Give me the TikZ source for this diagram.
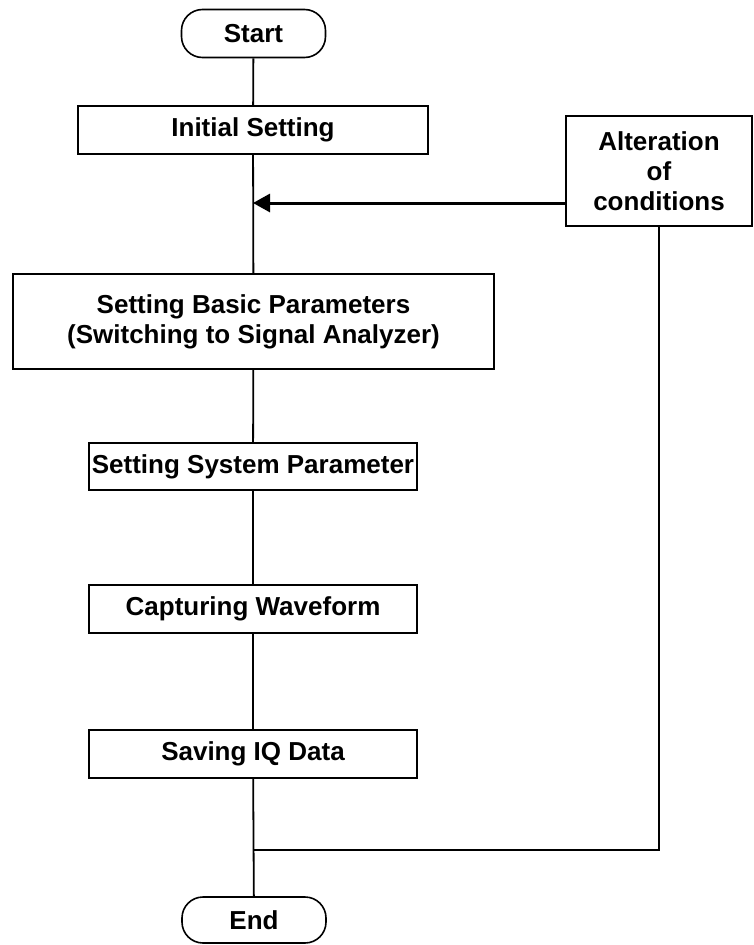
\documentclass[tikz,border=0pt]{standalone}
\usepackage{fontspec}
\setmainfont{Liberation Sans}
\usetikzlibrary{arrows.meta}
\begin{document}
\begin{tikzpicture}[x=1pt,y=-1pt,
  every node/.style={font=\fontsize{26}{30}\selectfont\bfseries, align=center, inner sep=0pt},
  procbox/.style={draw, line width=1.6pt, fill=white},
  term/.style={draw, line width=1.6pt, rounded corners=21pt, minimum width=144pt},
  conn/.style={line width=1.8pt},
  arr/.style={line width=3pt, -{Triangle[length=17pt,width=18pt]}}]
\useasboundingbox (0,0) rectangle (754,945);
\node[term, minimum height=48pt] (start) at (253.5,33.5) {Start};
\node[procbox, minimum width=350pt, minimum height=48pt] (init) at (253,130) {Initial Setting};
\node[procbox, minimum width=186pt, minimum height=110pt] (alt) at (659,171) {Alteration\\of\\conditions};
\node[procbox, minimum width=481pt, minimum height=95pt] (basic) at (253.5,321.5) {Setting Basic Parameters\\(Switching to Signal Analyzer)};
\node[procbox, minimum width=328pt, minimum height=47pt] (sys) at (253,466.5) {Setting System Parameter};
\node[procbox, minimum width=328pt, minimum height=48pt] (cap) at (253,609) {Capturing Waveform};
\node[procbox, minimum width=328pt, minimum height=48pt] (save) at (253,754) {Saving IQ Data};
\node[term, minimum height=46pt] (end) at (254,920) {End};
\coordinate (m) at (253,203);
\coordinate (j) at (253,850);
\draw[conn] (start) -- (init);
\draw[conn] (init) -- (basic);
\draw[conn] (basic) -- (sys);
\draw[conn] (sys) -- (cap);
\draw[conn] (cap) -- (save);
\draw[conn] (save) -- (end);
\draw[arr] (alt.west |- m) -- (m);
\draw[conn] (alt.south) |- (j);
\end{tikzpicture}
\end{document}
